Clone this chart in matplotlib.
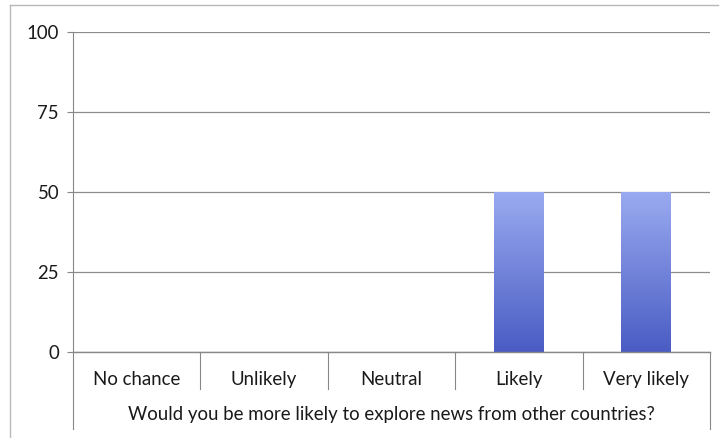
import matplotlib
matplotlib.use("Agg")
import matplotlib.pyplot as plt
import numpy as np
from matplotlib.colors import LinearSegmentedColormap
from matplotlib.lines import Line2D

categories = ["No chance", "Unlikely", "Neutral", "Likely", "Very likely"]
values = [0, 0, 0, 50, 50]
yticks = [0, 25, 50, 75, 100]
xlabel = "Would you be more likely to explore news from other countries?"

plt.rcParams['font.family'] = ['Lato', 'DejaVu Sans']

fig = plt.figure(figsize=(7.24, 4.38), dpi=100)
W, H = 724, 438
ax = fig.add_axes([73 / W, 1 - 352 / H, (710 - 73) / W, 320 / H])

# outer frame
frame_col = "#b8b8b8"
fig.add_artist(Line2D([10 / W, 10 / W], [0, 1 - 5 / H], color=frame_col, lw=1.0))
fig.add_artist(Line2D([10 / W, 718 / W], [1 - 5 / H, 1 - 5 / H], color=frame_col, lw=1.0))

x = np.arange(len(categories)) + 0.5
cmap = LinearSegmentedColormap.from_list("g", ["#4a5cc4", "#9aaaf0"])
grad = np.linspace(0, 1, 256).reshape(-1, 1)
bars = ax.bar(x, values, width=0.39, color="none", edgecolor="none", zorder=3)
for b, v in zip(bars, values):
    if v <= 0:
        continue
    x0 = b.get_x()
    im = ax.imshow(grad, cmap=cmap, origin="lower", aspect="auto",
                   extent=[x0, x0 + b.get_width(), 0, v], zorder=3)
    im.set_clip_path(b)

fs = 13.4
txtc = "#1a1a1a"
ax.set_xlim(0, len(categories))
ax.set_ylim(0, 100)
ax.set_yticks(yticks)
ax.set_yticklabels([str(t) for t in yticks], fontsize=fs, color=txtc)
ax.tick_params(axis="y", length=4, width=0.8, color="#888888", pad=6)
ax.set_xticks([])
ax.grid(axis="y", color="#8c8c8c", lw=0.9, zorder=0)
ax.set_axisbelow(True)
for s in ["top", "right", "bottom"]:
    ax.spines[s].set_visible(False)
ax.spines["left"].set_color("#888888")
ax.spines["left"].set_linewidth(0.8)

tr = ax.get_xaxis_transform()
# bottom axis line
ax.plot([0, len(categories)], [0, 0], transform=tr, color="#888888", lw=1.0, clip_on=False, zorder=4)
# category dividers
for i in range(1, len(categories)):
    ax.plot([i, i], [0, -0.115], transform=tr, color="#888888", lw=0.8, clip_on=False)
# extended outer lines
ax.plot([0, 0], [0, -0.24], transform=tr, color="#888888", lw=0.8, clip_on=False)
ax.plot([len(categories)] * 2, [0, -0.24], transform=tr, color="#888888", lw=0.8, clip_on=False)

for xi, c in zip(x, categories):
    ax.text(xi, -0.085, c, transform=tr, ha="center", va="center", fontsize=fs, color=txtc)
ax.text(len(categories) / 2, -0.195, xlabel, transform=tr, ha="center", va="center",
        fontsize=fs, color=txtc)

fig.savefig("out.png", dpi=100)
